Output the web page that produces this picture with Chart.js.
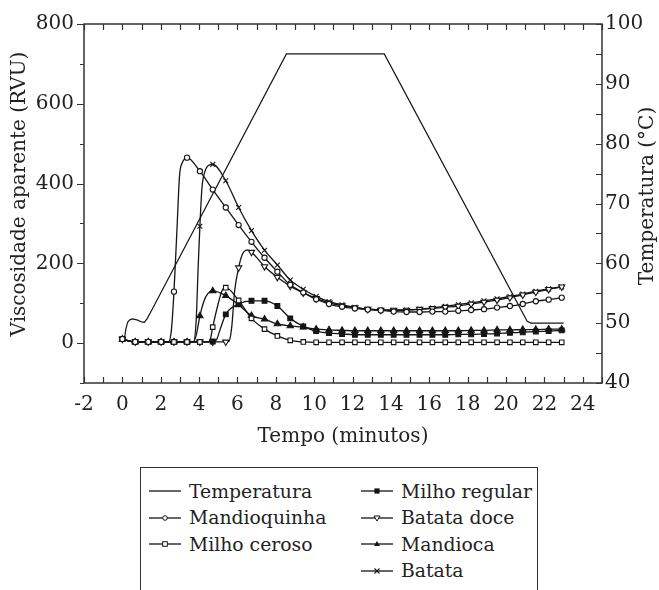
<!DOCTYPE html>
<html>
<head>
<meta charset="utf-8">
<script src="https://cdn.jsdelivr.net/npm/chart.js@4.4.1/dist/chart.umd.min.js"></script>
<style>
  body { margin: 0; background: #fff; }
  #wrap { position: relative; width: 659px; height: 590px; background: #fff; overflow: hidden; }
  #c { position: absolute; left: 0; top: 0; }
  #legend { position: absolute; left: 140px; top: 467px; width: 398px; height: 140px;
            border: 1.5px solid #333; border-bottom: none; box-sizing: border-box; }
  .item { position: absolute; height: 26px; display: flex; align-items: center;
          font-family: "DejaVu Serif", serif; font-size: 18.8px; color: #222; white-space: nowrap; }
  .item svg { margin-right: 8px; }
</style>
</head>
<body>
<div id="wrap">
  <canvas id="c" width="659" height="460"></canvas>
  <div id="legend"></div>
</div>
<script>
// ---- DATA ----
const time = [0, 0.67, 1.35, 2.02, 2.69, 3.37, 4.04, 4.71, 5.39, 6.06, 6.73, 7.41, 8.08, 8.75, 9.43, 10.1, 10.77, 11.45, 12.12, 12.79, 13.47, 14.14, 14.81, 15.49, 16.16, 16.83, 17.51, 18.18, 18.85, 19.53, 20.2, 20.87, 21.55, 22.22, 22.9];

const mandioquinha = [10, 3, 3, 3, 129, 465, 431, 385, 340, 296, 254, 214, 179, 146, 127, 110, 98, 91, 87, 84, 82, 79, 78, 78, 79, 79, 81, 83, 85, 89, 93, 98, 105, 109, 114];
const milhoCeroso  = [10, 3, 3, 3, 3, 3, 3, 40, 139, 107, 62, 35, 18, 7, 3, 2, 2, 2, 2, 2, 2, 2, 2, 2, 2, 2, 2, 2, 2, 2, 2, 2, 2, 2, 2];
const milhoRegular = [10, 3, 3, 3, 3, 3, 3, 4, 72, 98, 106, 106, 93, 62, 42, 30, 25, 23, 21, 21, 21, 21, 21, 21, 21, 21, 22, 22, 23, 24, 26, 27, 29, 30, 32];
const batataDoce   = [10, 3, 3, 3, 3, 3, 3, 3, 3, 189, 228, 192, 165, 143, 126, 112, 101, 94, 89, 85, 83, 83, 83, 85, 87, 90, 93, 98, 103, 108, 114, 121, 128, 135, 141];
const mandioca     = [10, 3, 3, 3, 3, 3, 68, 131, 119, 96, 69, 60, 48, 43, 40, 35, 33, 32, 31, 31, 31, 31, 31, 31, 31, 31, 31, 32, 32, 33, 33, 34, 34, 35, 35];
const batata       = [10, 3, 3, 3, 3, 3, 293, 448, 407, 340, 282, 233, 196, 158, 135, 117, 104, 96, 90, 85, 83, 82, 83, 85, 88, 92, 97, 101, 106, 111, 117, 123, 130, 136, 141];

// extra (unmarked) points of the continuous curves during pasting onset: [time, RVU]
const mandioquinhaOnset = [[2.4, 3], [2.55, 30], [2.85, 290], [2.98, 420], [3.12, 452], [3.25, 462]];
const milhoCerosoOnset  = [[4.5, 3], [4.6, 12], [5.0, 100], [5.2, 132]];
const milhoRegularOnset = [[4.9, 8], [5.1, 35]];
const batataDoceOnset   = [[5.55, 4], [5.7, 40], [5.85, 130], [6.25, 222], [6.5, 233]];
const mandiocaOnset     = [[3.7, 3], [3.85, 20], [4.25, 105], [4.45, 124]];
const batataOnset       = [[3.7, 3], [3.85, 60], [3.95, 190], [4.15, 390], [4.3, 430], [4.5, 446]];

// temperature profile (°C)
const tempTime    = [0.1, 0.18, 0.28, 0.4, 0.55, 0.8, 1.0, 1.15, 1.3, 1.5, 8.55, 13.65, 21.1, 21.3, 23.0];
const temperatura = [47.2, 49.0, 50.2, 50.6, 50.7, 50.5, 50.2, 50.15, 50.8, 52.0, 95, 95, 50.3, 50, 50];

// tick labels
const xTickValues    = [-2, 0, 2, 4, 6, 8, 10, 12, 14, 16, 18, 20, 22, 24];
const yTickValues    = [0, 200, 400, 600, 800];
const tempTickValues = [40, 50, 60, 70, 80, 90, 100];
const xMinorTicks    = [-2,-1,0,1,2,3,4,5,6,7,8,9,10,11,12,13,14,15,16,17,18,19,20,21,22,23,24,25];
const yMinorTicks    = [-100, 0, 100, 200, 300, 400, 500, 600, 700, 800];
const tempMinorTicks = [40, 45, 50, 55, 60, 65, 70, 75, 80, 85, 90, 95, 100];

// ---- STYLES ----
const INK = '#151515';
const series = [
  { label: 'Mandioquinha', values: mandioquinha, onset: mandioquinhaOnset, style: 'circle',   r: 2.6, fill: '#fff', rot: 0 },
  { label: 'Milho ceroso', values: milhoCeroso,  onset: milhoCerosoOnset,  style: 'rect',     r: 3.2, fill: '#fff', rot: 0 },
  { label: 'Milho regular',values: milhoRegular, onset: milhoRegularOnset, style: 'rect',     r: 3.4, fill: INK,   rot: 0 },
  { label: 'Batata doce',  values: batataDoce,   onset: batataDoceOnset,   style: 'triangle', r: 3.6, fill: '#fff', rot: 180 },
  { label: 'Mandioca',     values: mandioca,     onset: mandiocaOnset,     style: 'triangle', r: 3.6, fill: INK,   rot: 0 },
  { label: 'Batata',       values: batata,       onset: batataOnset,       style: 'crossRot', r: 3.4, fill: INK,   rot: 0 }
];

function mergedPoints(values, extra) {
  const pts = time.map((t, i) => ({ x: t, y: values[i] }));
  extra.forEach(p => pts.push({ x: p[0], y: p[1] }));
  pts.sort((a, b) => a.x - b.x);
  return pts;
}

const datasets = [];
series.forEach(s => {
  datasets.push({
    label: s.label + ' (pontos)',
    data: time.map((t, i) => ({ x: t, y: s.values[i] })),
    showLine: false,
    pointStyle: s.style,
    pointRadius: s.r,
    pointRotation: s.rot,
    pointBackgroundColor: s.fill,
    pointBorderColor: INK,
    pointBorderWidth: 1.1,
    order: 0,
    yAxisID: 'y'
  });
  datasets.push({
    label: s.label,
    data: mergedPoints(s.values, s.onset),
    borderColor: INK,
    borderWidth: 1.3,
    pointRadius: 0,
    cubicInterpolationMode: 'monotone',
    fill: false,
    order: 1,
    yAxisID: 'y'
  });
});
datasets.push({
  label: 'Temperatura',
  data: tempTime.map((t, i) => ({ x: t, y: temperatura[i] })),
  borderColor: INK,
  borderWidth: 1.2,
  pointRadius: 0,
  tension: 0,
  fill: false,
  order: 2,
  yAxisID: 'y1'
});

const FONT = '"DejaVu Serif", serif';
const AXIS = '#333';

const framePlugin = {
  id: 'frame',
  afterDraw(chart) {
    const ctx = chart.ctx;
    const a = chart.chartArea;
    const xs = chart.scales.x, ys = chart.scales.y, ts = chart.scales.y1;
    ctx.save();
    ctx.strokeStyle = AXIS;
    ctx.lineWidth = 1.5;
    ctx.strokeRect(a.left, a.top, a.right - a.left, a.bottom - a.top);
    ctx.lineWidth = 1.2;
    ctx.beginPath();
    // x ticks: inward on bottom and top
    xMinorTicks.forEach(v => {
      const px = Math.round(xs.getPixelForValue(v)) + 0.5;
      ctx.moveTo(px, a.bottom); ctx.lineTo(px, a.bottom - 6);
      ctx.moveTo(px, a.top); ctx.lineTo(px, a.top + 6);
    });
    // left ticks: outward
    yMinorTicks.forEach(v => {
      const py = Math.round(ys.getPixelForValue(v)) + 0.5;
      const len = yTickValues.includes(v) ? 7 : 4;
      ctx.moveTo(a.left, py); ctx.lineTo(a.left - len, py);
    });
    // right ticks: inward
    tempMinorTicks.forEach(v => {
      const py = Math.round(ts.getPixelForValue(v)) + 0.5;
      ctx.moveTo(a.right, py); ctx.lineTo(a.right - 6, py);
    });
    ctx.stroke();

    // axis titles
    ctx.fillStyle = '#222';
    ctx.font = '20px ' + FONT;
    ctx.textAlign = 'center';
    ctx.textBaseline = 'middle';
    ctx.fillText('Tempo (minutos)', (a.left + a.right) / 2, 437);
    ctx.save();
    ctx.translate(20, 194);
    ctx.rotate(-Math.PI / 2);
    ctx.fillText('Viscosidade aparente (RVU)', 0, 0);
    ctx.restore();
    ctx.save();
    ctx.translate(648, 196);
    ctx.rotate(-Math.PI / 2);
    ctx.fillText('Temperatura (°C)', 0, 0);
    ctx.restore();
    ctx.restore();
  }
};

new Chart(document.getElementById('c'), {
  type: 'line',
  data: { datasets },
  options: {
    responsive: false,
    animation: false,
    layout: { padding: { top: 24, left: 0, right: 0, bottom: 0 } },
    plugins: { legend: { display: false }, tooltip: { enabled: false } },
    scales: {
      x: {
        type: 'linear', min: -2, max: 25,
        grid: { display: false, drawTicks: false },
        border: { display: false },
        afterBuildTicks: s => { s.ticks = xTickValues.map(v => ({ value: v })); },
        afterFit: s => { s.height = 77; },
        ticks: { padding: 10, color: '#222', font: { family: FONT, size: 20 }, maxRotation: 0, autoSkip: false }
      },
      y: {
        type: 'linear', position: 'left', min: -100, max: 800,
        grid: { display: false, drawTicks: false },
        border: { display: false },
        afterBuildTicks: s => { s.ticks = yTickValues.map(v => ({ value: v })); },
        afterFit: s => { s.width = 84; },
        ticks: { padding: 10, color: '#222', font: { family: FONT, size: 20 } }
      },
      y1: {
        type: 'linear', position: 'right', min: 40, max: 100,
        grid: { display: false, drawTicks: false },
        border: { display: false },
        afterBuildTicks: s => { s.ticks = tempTickValues.map(v => ({ value: v })); },
        afterFit: s => { s.width = 57; },
        ticks: { padding: 3, color: '#222', font: { family: FONT, size: 20 } }
      }
    }
  },
  plugins: [framePlugin]
});

// ---- HTML legend ----
const legendItems = [
  { label: 'Temperatura',   marker: 'none',   col: 0, row: 0 },
  { label: 'Mandioquinha',  marker: 'circle', col: 0, row: 1 },
  { label: 'Milho ceroso',  marker: 'osq',    col: 0, row: 2 },
  { label: 'Milho regular', marker: 'fsq',    col: 1, row: 0 },
  { label: 'Batata doce',   marker: 'otri',   col: 1, row: 1 },
  { label: 'Mandioca',      marker: 'ftri',   col: 1, row: 2 },
  { label: 'Batata',        marker: 'cross',  col: 1, row: 3 }
];
function markerSvg(m) {
  const cx = 16, cy = 7;
  let shape = '';
  if (m === 'circle') shape = `<circle cx="${cx}" cy="${cy}" r="2.3" fill="#fff" stroke="${INK}" stroke-width="1"/>`;
  if (m === 'osq') shape = `<rect x="${cx-2.3}" y="${cy-2.3}" width="4.6" height="4.6" fill="#fff" stroke="${INK}" stroke-width="1"/>`;
  if (m === 'fsq') shape = `<rect x="${cx-2.6}" y="${cy-2.6}" width="5.2" height="5.2" fill="${INK}"/>`;
  if (m === 'otri') shape = `<polygon points="${cx-3},${cy-2} ${cx+3},${cy-2} ${cx},${cy+3}" fill="#fff" stroke="${INK}" stroke-width="1"/>`;
  if (m === 'ftri') shape = `<polygon points="${cx-3},${cy+2} ${cx+3},${cy+2} ${cx},${cy-3}" fill="${INK}"/>`;
  if (m === 'cross') shape = `<path d="M${cx-2.5},${cy-2.5}L${cx+2.5},${cy+2.5}M${cx-2.5},${cy+2.5}L${cx+2.5},${cy-2.5}" stroke="${INK}" stroke-width="1.1"/>`;
  return `<svg width="32" height="14" viewBox="0 0 32 14"><line x1="0" y1="7" x2="32" y2="7" stroke="${INK}" stroke-width="1.3"/>${shape}</svg>`;
}
const legend = document.getElementById('legend');
legendItems.forEach(it => {
  const d = document.createElement('div');
  d.className = 'item';
  d.style.left = (it.col === 0 ? 8 : 220) + 'px';
  d.style.top = (10 + it.row * 26.5) + 'px';
  d.innerHTML = markerSvg(it.marker) + '<span>' + it.label + '</span>';
  legend.appendChild(d);
});
</script>
</body>
</html>
